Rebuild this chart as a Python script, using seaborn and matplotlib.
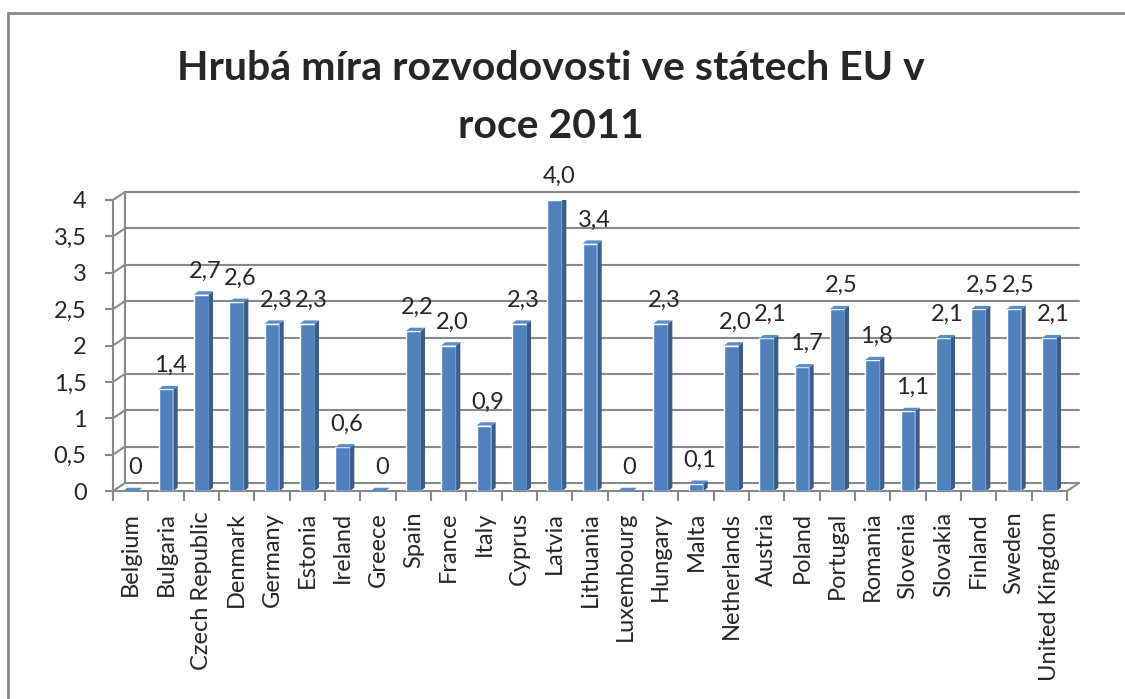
import matplotlib
matplotlib.use("Agg")
import matplotlib.pyplot as plt
import matplotlib.transforms as mtransforms
import seaborn as sns
import pandas as pd

countries = ["Belgium", "Bulgaria", "Czech Republic", "Denmark", "Germany", "Estonia",
             "Ireland", "Greece", "Spain", "France", "Italy", "Cyprus", "Latvia",
             "Lithuania", "Luxembourg", "Hungary", "Malta", "Netherlands", "Austria",
             "Poland", "Portugal", "Romania", "Slovenia", "Slovakia", "Finland",
             "Sweden", "United Kingdom"]
rates = [0, 1.4, 2.7, 2.6, 2.3, 2.3, 0.6, 0, 2.2, 2.0, 0.9, 2.3, 4.0,
         3.4, 0, 2.3, 0.1, 2.0, 2.1, 1.7, 2.5, 1.8, 1.1, 2.1, 2.5, 2.5, 2.1]
yticks = [0, 0.5, 1, 1.5, 2, 2.5, 3, 3.5, 4]
title = "Hrubá míra rozvodovosti ve státech EU v\nroce 2011"

df = pd.DataFrame({"country": countries, "rate": rates})

sns.set_style("white")
plt.rcParams["font.family"] = ["Lato", "DejaVu Sans"]

front = "#4F81BD"
side = "#385D8A"
top = "#5B8CC8"
grid_c = "#898989"

fig = plt.figure(figsize=(11.25, 6.99), dpi=100)
ax = fig.add_axes([113 / 1125, 1 - 491 / 699, 954 / 1125, 291 / 699])

sns.barplot(data=df, x="country", y="rate", color=front, saturation=1,
            width=0.42, ax=ax, zorder=3)

ax.set_xlim(-0.5, len(countries) - 0.5)
ax.set_ylim(0, 4)

# back wall gridlines, shifted like Excel's 3D wall
shift = mtransforms.ScaledTranslation(0.12, 0.08, fig.dpi_scale_trans)
front_t = ax.get_yaxis_transform()
wall = front_t + shift
for t in yticks:
    ax.plot([0, 1], [t, t], transform=wall, color=grid_c, lw=1.5, zorder=1, clip_on=False)
    p0 = front_t.transform((0, t))
    p1 = wall.transform((0, t))
    ax.plot([p0[0], p1[0]], [p0[1], p1[1]], transform=None, color=grid_c, lw=1.5,
            zorder=1, clip_on=False)
p0 = front_t.transform((1, 0))
p1 = wall.transform((1, 0))
ax.plot([p0[0], p1[0]], [p0[1], p1[1]], transform=None, color=grid_c, lw=1.5,
        zorder=1, clip_on=False)
ax.plot([0, 0], [0, 4], transform=wall, color=grid_c, lw=1.5, zorder=1, clip_on=False)

# side and top faces of the bars
dx, dy = 0.12, 0.045
for bar in list(ax.patches):
    x0, w, h = bar.get_x(), bar.get_width(), bar.get_height()
    x1 = x0 + w
    ax.fill([x1, x1 + dx, x1 + dx, x1], [0, dy, h + dy, h], color=side, zorder=3, lw=0)
    ax.fill([x0, x1, x1 + dx, x0 + dx], [h, h, h + dy, h + dy], color=top, zorder=3.1, lw=0)

# data labels
for i, v in enumerate(rates):
    txt = "0" if v == 0 else f"{v:.1f}".replace(".", ",")
    ax.annotate(txt, (i, v), xytext=(4, 13), textcoords="offset pixels",
                ha="center", va="bottom", fontsize=17)

for s in ["top", "right"]:
    ax.spines[s].set_visible(False)
for s in ["left", "bottom"]:
    ax.spines[s].set_color(grid_c)
    ax.spines[s].set_linewidth(1.5)

ax.set_yticks(yticks)
ax.set_yticklabels([f"{t:g}".replace(".", ",") for t in yticks])
ax.set_xticks([i - 0.5 for i in range(len(countries) + 1)])
ax.set_xticklabels([""] * (len(countries) + 1))
ax.set_xticks(range(len(countries)), minor=True)
ax.set_xticklabels(countries, minor=True, rotation=90, fontsize=17)
ax.tick_params(axis="x", which="major", bottom=True, length=7, width=1.5,
               color=grid_c, direction="out")
ax.tick_params(axis="x", which="minor", bottom=False, length=0, pad=15)
ax.tick_params(axis="y", left=True, length=6, width=1.5, color=grid_c, direction="out",
               pad=13, labelsize=17)
ax.set_xlabel("")
ax.set_ylabel("")

fig.text(0.49, 1 - 98 / 699, title, ha="center", va="center", fontsize=29.5,
         fontweight="bold", linespacing=1.7)

# outer chart border (cropped, only top and left visible)
fig.add_artist(plt.Line2D([8 / 1125, 1], [1 - 13 / 699, 1 - 13 / 699], color=grid_c,
                          lw=2, transform=fig.transFigure))
fig.add_artist(plt.Line2D([8 / 1125, 8 / 1125], [0, 1 - 13 / 699], color=grid_c,
                          lw=2, transform=fig.transFigure))

fig.savefig("out.png", dpi=100)
